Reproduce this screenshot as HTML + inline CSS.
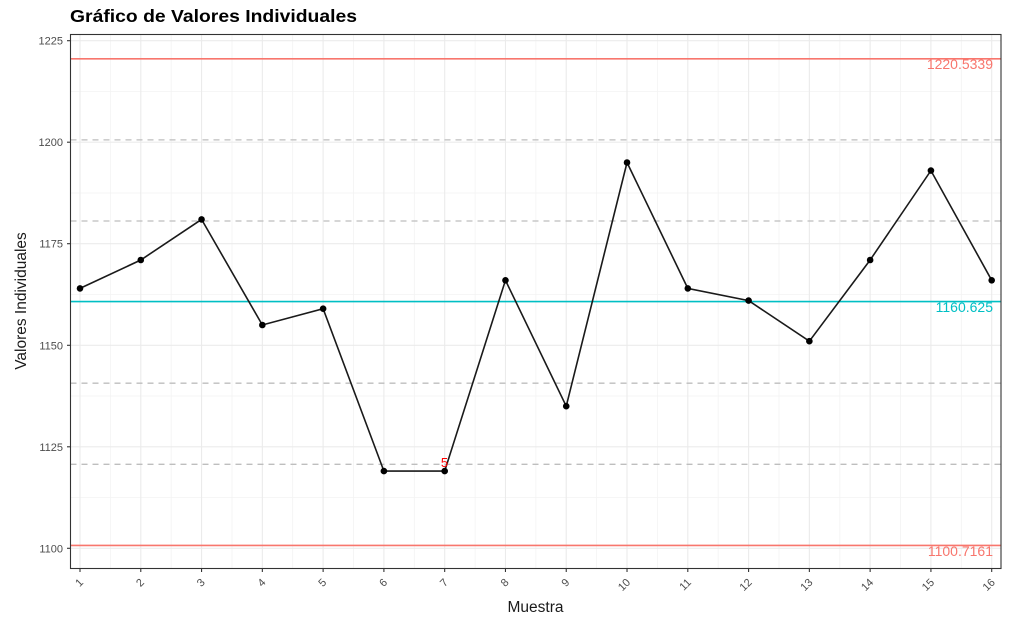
<!DOCTYPE html>
<html><head><meta charset="utf-8"><style>
html,body{margin:0;padding:0;background:#fff;}
svg{display:block;font-family:"Liberation Sans",sans-serif;}
</style></head><body>
<svg width="1024" height="623" viewBox="0 0 1024 623" xmlns="http://www.w3.org/2000/svg">
<rect width="1024" height="623" fill="#fff"/>
<text x="70" y="22" font-size="17.5" font-weight="bold" fill="#000" textLength="287" lengthAdjust="spacingAndGlyphs">Gráfico de Valores Individuales</text>
<!-- minor grid -->
<g stroke="#f3f3f3" stroke-width="0.8">
<line x1="70.5" x2="1001" y1="91.5" y2="91.5"/><line x1="70.5" x2="1001" y1="193" y2="193"/>
<line x1="70.5" x2="1001" y1="294.5" y2="294.5"/><line x1="70.5" x2="1001" y1="396" y2="396"/>
<line x1="70.5" x2="1001" y1="497.5" y2="497.5"/>
<line y1="34.5" y2="568.5" x1="110.4" x2="110.4"/><line y1="34.5" y2="568.5" x1="171.2" x2="171.2"/>
<line y1="34.5" y2="568.5" x1="232" x2="232"/><line y1="34.5" y2="568.5" x1="292.7" x2="292.7"/>
<line y1="34.5" y2="568.5" x1="353.5" x2="353.5"/><line y1="34.5" y2="568.5" x1="414.3" x2="414.3"/>
<line y1="34.5" y2="568.5" x1="475.1" x2="475.1"/><line y1="34.5" y2="568.5" x1="535.9" x2="535.9"/>
<line y1="34.5" y2="568.5" x1="596.6" x2="596.6"/><line y1="34.5" y2="568.5" x1="657.4" x2="657.4"/>
<line y1="34.5" y2="568.5" x1="718.2" x2="718.2"/><line y1="34.5" y2="568.5" x1="779" x2="779"/>
<line y1="34.5" y2="568.5" x1="839.8" x2="839.8"/><line y1="34.5" y2="568.5" x1="900.5" x2="900.5"/>
<line y1="34.5" y2="568.5" x1="961.3" x2="961.3"/>
</g>
<!-- major grid -->
<g stroke="#ebebeb" stroke-width="1.1">
<line x1="70.5" x2="1001" y1="40.7" y2="40.7"/><line x1="70.5" x2="1001" y1="142.2" y2="142.2"/>
<line x1="70.5" x2="1001" y1="243.7" y2="243.7"/><line x1="70.5" x2="1001" y1="345.3" y2="345.3"/>
<line x1="70.5" x2="1001" y1="446.8" y2="446.8"/><line x1="70.5" x2="1001" y1="548.3" y2="548.3"/>
<line y1="34.5" y2="568.5" x1="80" x2="80"/><line y1="34.5" y2="568.5" x1="140.78" x2="140.78"/>
<line y1="34.5" y2="568.5" x1="201.56" x2="201.56"/><line y1="34.5" y2="568.5" x1="262.34" x2="262.34"/>
<line y1="34.5" y2="568.5" x1="323.12" x2="323.12"/><line y1="34.5" y2="568.5" x1="383.9" x2="383.9"/>
<line y1="34.5" y2="568.5" x1="444.68" x2="444.68"/><line y1="34.5" y2="568.5" x1="505.46" x2="505.46"/>
<line y1="34.5" y2="568.5" x1="566.24" x2="566.24"/><line y1="34.5" y2="568.5" x1="627.02" x2="627.02"/>
<line y1="34.5" y2="568.5" x1="687.8" x2="687.8"/><line y1="34.5" y2="568.5" x1="748.58" x2="748.58"/>
<line y1="34.5" y2="568.5" x1="809.36" x2="809.36"/><line y1="34.5" y2="568.5" x1="870.14" x2="870.14"/>
<line y1="34.5" y2="568.5" x1="930.92" x2="930.92"/><line y1="34.5" y2="568.5" x1="991.7" x2="991.7"/>
</g>
<!-- sigma dashed lines -->
<g stroke="#bebebe" stroke-width="1.3" stroke-dasharray="6,5">
<line x1="70.5" x2="1001" y1="139.9" y2="139.9"/>
<line x1="70.5" x2="1001" y1="221" y2="221"/>
<line x1="70.5" x2="1001" y1="383.2" y2="383.2"/>
<line x1="70.5" x2="1001" y1="464.3" y2="464.3"/>
</g>
<!-- control lines -->
<line x1="70.5" x2="1001" y1="58.8" y2="58.8" stroke="#f8766d" stroke-width="1.6"/>
<line x1="70.5" x2="1001" y1="545.4" y2="545.4" stroke="#f8766d" stroke-width="1.6"/>
<line x1="70.5" x2="1001" y1="301.6" y2="301.6" stroke="#00bfc4" stroke-width="1.6"/>
<g font-size="14" text-anchor="end">
<text x="993" y="69" fill="#f8766d">1220.5339</text>
<text x="993" y="312" fill="#00bfc4">1160.625</text>
<text x="993" y="556" fill="#f8766d">1100.7161</text>
</g>
<!-- data -->
<polyline fill="none" stroke="#1a1a1a" stroke-width="1.6" points="80,288.4 140.78,260 201.56,219.4 262.34,325 323.12,308.7 383.9,471.1 444.68,471.1 505.46,280.3 566.24,406.2 627.02,162.5 687.8,288.4 748.58,300.6 809.36,341.2 870.14,260 930.92,170.6 991.7,280.3"/>
<g fill="#000">
<circle cx="80" cy="288.4" r="3.3"/><circle cx="140.78" cy="260" r="3.3"/><circle cx="201.56" cy="219.4" r="3.3"/>
<circle cx="262.34" cy="325" r="3.3"/><circle cx="323.12" cy="308.7" r="3.3"/><circle cx="383.9" cy="471.1" r="3.3"/>
<circle cx="444.68" cy="471.1" r="3.3"/><circle cx="505.46" cy="280.3" r="3.3"/><circle cx="566.24" cy="406.2" r="3.3"/>
<circle cx="627.02" cy="162.5" r="3.3"/><circle cx="687.8" cy="288.4" r="3.3"/><circle cx="748.58" cy="300.6" r="3.3"/>
<circle cx="809.36" cy="341.2" r="3.3"/><circle cx="870.14" cy="260" r="3.3"/><circle cx="930.92" cy="170.6" r="3.3"/>
<circle cx="991.7" cy="280.3" r="3.3"/>
</g>
<text x="444.5" y="467" font-size="13" fill="#ff0000" text-anchor="middle">5</text>
<!-- panel border -->
<rect x="70.5" y="34.5" width="930.5" height="534" fill="none" stroke="#333" stroke-width="1.1"/>
<!-- y ticks -->
<g stroke="#333" stroke-width="1.1">
<line x1="67" x2="70.5" y1="40.7" y2="40.7"/><line x1="67" x2="70.5" y1="142.2" y2="142.2"/>
<line x1="67" x2="70.5" y1="243.7" y2="243.7"/><line x1="67" x2="70.5" y1="345.3" y2="345.3"/>
<line x1="67" x2="70.5" y1="446.8" y2="446.8"/><line x1="67" x2="70.5" y1="548.3" y2="548.3"/>
</g>
<g font-size="11" fill="#4d4d4d" text-anchor="end">
<text x="63" y="44.7">1225</text><text x="63" y="146.2">1200</text><text x="63" y="247.7">1175</text>
<text x="63" y="349.3">1150</text><text x="63" y="450.8">1125</text><text x="63" y="552.3">1100</text>
</g>
<!-- x ticks -->
<g stroke="#333" stroke-width="1.1">
<line y1="568.5" y2="572" x1="80" x2="80"/><line y1="568.5" y2="572" x1="140.78" x2="140.78"/>
<line y1="568.5" y2="572" x1="201.56" x2="201.56"/><line y1="568.5" y2="572" x1="262.34" x2="262.34"/>
<line y1="568.5" y2="572" x1="323.12" x2="323.12"/><line y1="568.5" y2="572" x1="383.9" x2="383.9"/>
<line y1="568.5" y2="572" x1="444.68" x2="444.68"/><line y1="568.5" y2="572" x1="505.46" x2="505.46"/>
<line y1="568.5" y2="572" x1="566.24" x2="566.24"/><line y1="568.5" y2="572" x1="627.02" x2="627.02"/>
<line y1="568.5" y2="572" x1="687.8" x2="687.8"/><line y1="568.5" y2="572" x1="748.58" x2="748.58"/>
<line y1="568.5" y2="572" x1="809.36" x2="809.36"/><line y1="568.5" y2="572" x1="870.14" x2="870.14"/>
<line y1="568.5" y2="572" x1="930.92" x2="930.92"/><line y1="568.5" y2="572" x1="991.7" x2="991.7"/>
</g>
<g font-size="11" fill="#4d4d4d" text-anchor="end">
<text transform="translate(84,583) rotate(-45)">1</text>
<text transform="translate(144.78,583) rotate(-45)">2</text>
<text transform="translate(205.56,583) rotate(-45)">3</text>
<text transform="translate(266.34,583) rotate(-45)">4</text>
<text transform="translate(327.12,583) rotate(-45)">5</text>
<text transform="translate(387.9,583) rotate(-45)">6</text>
<text transform="translate(448.68,583) rotate(-45)">7</text>
<text transform="translate(509.46,583) rotate(-45)">8</text>
<text transform="translate(570.24,583) rotate(-45)">9</text>
<text transform="translate(631.02,583) rotate(-45)">10</text>
<text transform="translate(691.8,583) rotate(-45)">11</text>
<text transform="translate(752.58,583) rotate(-45)">12</text>
<text transform="translate(813.36,583) rotate(-45)">13</text>
<text transform="translate(874.14,583) rotate(-45)">14</text>
<text transform="translate(934.92,583) rotate(-45)">15</text>
<text transform="translate(995.7,583) rotate(-45)">16</text>
</g>
<text x="535.5" y="612" font-size="15.5" fill="#1a1a1a" text-anchor="middle">Muestra</text>
<text transform="translate(26,301) rotate(-90)" font-size="15.5" fill="#1a1a1a" text-anchor="middle">Valores Individuales</text>
</svg>
</body></html>
